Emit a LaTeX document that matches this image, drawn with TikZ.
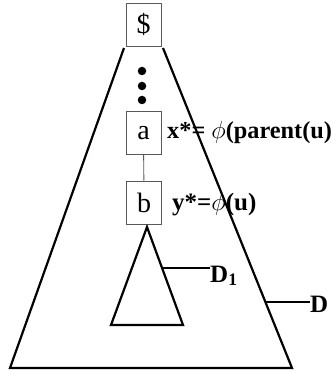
\documentclass[tikz,border=0pt]{standalone}
\usepackage{fontspec}
\setmainfont{Liberation Serif}
\begin{document}
\begin{tikzpicture}[x=1pt,y=-1pt,
 box/.style={draw=black!65,line width=0.9pt,minimum width=35pt,minimum height=43pt,inner sep=0pt,font=\fontsize{28}{30}\selectfont},
 lbl/.style={anchor=base west,inner sep=0pt,font=\fontsize{25}{28}\selectfont\bfseries},
 dot/.style={circle,fill,inner sep=0pt,minimum size=8.5pt},
 link/.style={draw=black!65,line width=0.9pt},
 edge/.style={line width=2.2pt,line join=miter}]
\useasboundingbox (0,0) rectangle (334,374);
\node[box] (root) at (143.5,24.5) {\$};
\node[dot] (dotA) at (142,71) {};
\node[dot] (dotB) at (142,86) {};
\node[dot] (dotC) at (142,100) {};
\node[box] (a) at (143.5,133) {a};
\node[box] (b) at (144,202.5) {b};
\draw[link] (a) -- (b);
\coordinate (tl) at (124,48); \coordinate (tr) at (163,48);
\coordinate (bl) at (10,368); \coordinate (br) at (292,368);
\draw[edge] (tl) -- (bl) -- (br) -- (tr);
\coordinate (st) at (147,227); \coordinate (sl) at (111,325); \coordinate (sr) at (183,325);
\draw[edge] (st) -- (sl) -- (sr) -- cycle;
\node[lbl,font=\fontsize{24.3}{28}\selectfont\bfseries] (xlab) at (167,139) {x*= $\phi$(parent(u)};
\node[lbl] (ylab) at (172,210) {y*=$\phi$(u)};
\node[lbl] (D1) at (210,282) {D\textsubscript{1}};
\node[lbl] (D) at (310,312) {D};
\coordinate (d1foot) at (163,268); \coordinate (dfoot) at (266,302);
\draw[edge] (d1foot) -- (d1foot -| D1.west);
\draw[edge] (dfoot) -- (dfoot -| D.west);
\end{tikzpicture}
\end{document}
